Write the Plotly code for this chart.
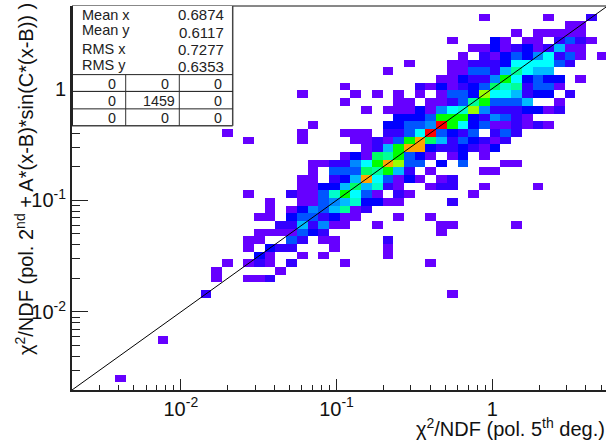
import numpy as np
import plotly.graph_objects as go

# 50 x 50 log-spaced histogram bins
axis_low = 0.002
axis_high = 5.5
n_bins = 50

# counts per row of the 2D histogram: {first column: run of counts (base 36, '.' = empty)}
row_48 = {38: "1", 44: "1", 48: "2"}
row_47 = {46: "11"}
row_46 = {41: "1", 43: "11111"}
row_45 = {35: "1", 39: "31", 42: "11", 45: "2421"}
row_44 = {37: "11312312611"}
row_43 = {36: "1.2134357241", 49: "1"}
row_42 = {31: "1", 35: "112223777742"}
row_41 = {29: "1", 35: "1144269766"}
row_40 = {34: "113225b73433", 47: "1"}
row_39 = {25: "1", 32: "2131234a892441"}
row_38 = {21: "1", 26: "1", 28: "1", 30: "1", 32: "1", 34: "1443d776233", 46: "2"}
row_37 = {25: "1", 30: "11", 33: "11249b4446", 45: "1"}
row_36 = {27: "1", 29: "11131578d52223312"}
row_35 = {30: "3334bbb325421"}
row_34 = {22: "1", 29: "33445kb734112121"}
row_33 = {14: "1", 21: "1", 25: "111", 29: "2247k4324.242"}
row_32 = {16: "1", 21: "1", 26: "11214bia6243212"}
row_31 = {27: "126bii3223213"}
row_30 = {25: "131a9b431", 35: "13", 38: "1"}
row_29 = {22: "112257bid44", 34: "3", 36: "4", 40: "11"}
row_28 = {22: "1", 24: "444a9b62", 33: "1", 38: "11"}
row_27 = {21: "11", 24: "236i74131", 34: "12"}
row_26 = {21: "11336a6821", 33: "122", 38: "1", 43: "1"}
row_25 = {16: "1", 20: "2", 21: "1148b741", 30: "21", 37: "1"}
row_24 = {18: "1", 21: "1145683311", 35: "2"}
row_23 = {18: "1", 20: "13546912"}
row_22 = {17: "11", 20: "3442311", 30: "1", 33: "1"}
row_21 = {19: "2262511", 28: "1", 34: "11", 41: "1"}
row_20 = {17: "1111432", 34: "1"}
row_19 = {16: "11", 20: "42", 23: "11", 29: "2"}
row_18 = {16: "1", 18: "322", 24: "1", 29: "1"}
row_17 = {17: "31", 21: "1", 23: "1", 29: "1"}
row_16 = {14: "1", 16: "121", 20: "2", 25: "1", 33: "1"}
row_15 = {13: "1", 19: "1"}
row_14 = {13: "1", 16: "112"}
row_12 = {12: "2", 35: "1"}
row_06 = {8: "1"}
row_01 = {4: "1"}

hist_rows = {48: row_48, 47: row_47, 46: row_46, 45: row_45, 44: row_44, 43: row_43, 42: row_42,
             41: row_41, 40: row_40, 39: row_39, 38: row_38, 37: row_37, 36: row_36, 35: row_35,
             34: row_34, 33: row_33, 32: row_32, 31: row_31, 30: row_30, 29: row_29, 28: row_28,
             27: row_27, 26: row_26, 25: row_25, 24: row_24, 23: row_23, 22: row_22, 21: row_21,
             20: row_20, 19: row_19, 18: row_18, 17: row_17, 16: row_16, 15: row_15, 14: row_14,
             12: row_12, 6: row_06, 1: row_01}

stat_labels = ["Mean x", "Mean y", "RMS x", "RMS y"]
stat_values = ["0.6874", "0.6117", "0.7277", "0.6353"]
table_values = [["0", "0", "0"], ["0", "1459", "0"], ["0", "0", "0"]]

# palette: count -> colour
count_stops = [1, 2, 3, 4, 5, 6, 7, 8, 9, 10, 11, 13, 18, 20]
count_colors = ["#6600ff", "#3300ff", "#0000ff", "#0055ff", "#0088ff", "#00bbff", "#00ffff",
                "#00ffcc", "#00ff99", "#00ff66", "#00ff00", "#99ff00", "#ffa500", "#ff0000"]

z = [[None] * n_bins for _ in range(n_bins)]
for r, runs in hist_rows.items():
    for start, run in runs.items():
        for k, ch in enumerate(run):
            if ch != ".":
                z[r][start + k] = int(ch, 36)

edges = np.logspace(np.log10(axis_low), np.log10(axis_high), n_bins + 1).tolist()
scale = [[(c - 1) / 19, col] for c, col in zip(count_stops, count_colors)]

W, H = 606, 441
L, T, B = 72, 5.5, 390
R = 606
PH = B - T
def px(x): return (x - L) / (R - L)
def py(y): return (B - y) / PH

x_high = 10 ** ((R - L) / 155.7 + np.log10(axis_low))

fig = go.Figure()
fig.add_trace(go.Heatmap(x=edges, y=edges, z=z, colorscale=scale, zmin=1, zmax=20,
                         showscale=False, hoverongaps=False))
fig.add_trace(go.Scatter(x=[axis_low, axis_high], y=[axis_low, axis_high], mode="lines",
                         line=dict(color="black", width=1), showlegend=False, hoverinfo="skip"))

fig.update_layout(
    width=W, height=H, margin=dict(l=L, r=W - R, t=T, b=H - B, pad=0, autoexpand=False),
    paper_bgcolor="white", plot_bgcolor="white", showlegend=False,
    font=dict(family="Liberation Sans, Arial, sans-serif", color="#111111"),
)
fig.update_xaxes(type="log", range=[np.log10(axis_low), np.log10(x_high)], showgrid=False, zeroline=False,
                 showline=True, linecolor="#222222", linewidth=1.5, mirror=False,
                 tickmode="array", tickvals=[0.01, 0.1, 1], ticktext=["10<sup>-2</sup>", "10<sup>-1</sup>", "1"],
                 ticks="inside", ticklen=11, tickwidth=1, tickcolor="#222222",
                 tickfont=dict(size=20, color="#111111"),
                 minor=dict(ticks="inside", ticklen=5.5, tickwidth=1, tickcolor="#222222", dtick="D1", showgrid=False))
fig.update_yaxes(type="log", range=[np.log10(axis_low), np.log10(axis_high)], showgrid=False, zeroline=False,
                 showline=True, linecolor="#222222", linewidth=2, mirror=False,
                 tickmode="array", tickvals=[0.01, 0.1, 1], ticktext=["10<sup>-2</sup>", "10<sup>-1</sup>", "1"],
                 ticks="inside", ticklen=16, tickwidth=1, tickcolor="#222222",
                 tickfont=dict(size=20, color="#111111"),
                 minor=dict(ticks="inside", ticklen=8, tickwidth=1, tickcolor="#222222", dtick="D1", showgrid=False))

shapes = []
def seg(x0, y0, x1, y1, color="#222222", w=1):
    shapes.append(dict(type="line", xref="paper", yref="paper", x0=px(x0), y0=py(y0), x1=px(x1), y1=py(y1),
                       line=dict(color=color, width=w)))
# top frame
seg(72, 5.5, 606, 5.5, "#111111", 1)
# stats box
shapes.append(dict(type="rect", xref="paper", yref="paper", x0=px(72), y0=py(125.5), x1=px(232.7), y1=py(5.5),
                   fillcolor="white", line=dict(color="white", width=0), layer="above"))
seg(232.7, 5.5, 232.7, 125.5, "#444444", 1.5)
seg(72, 125.5, 232.7, 125.5, "#444444", 1.5)
seg(72, 74.2, 232.7, 74.2, "#222222", 1)
seg(72, 91, 232.7, 91, "#111111", 1)
seg(72, 108.5, 232.7, 108.5, "#222222", 1)
seg(125.7, 74.2, 125.7, 125.5, "#333333", 1)
seg(179.3, 74.2, 179.3, 125.5, "#333333", 1)
seg(72, 5.5, 72, 125.5, "#222222", 2)
fig.update_layout(shapes=shapes)

ann = []
def text(x, y, s, size, anchor="left", color="#222222"):
    ann.append(dict(xref="paper", yref="paper", x=px(x), y=py(y), text=s, showarrow=False, xanchor=anchor,
                    yanchor="middle", font=dict(size=size, color=color), align=anchor, borderpad=0))

stat_label_y = [14.5, 30, 49, 65]
stat_value_y = [14.5, 32, 49, 65.7]
for s, v, yl, yv in zip(stat_labels, stat_values, stat_label_y, stat_value_y):
    text(80.5, yl, s, 14.5)
    text(224.5, yv, v, 15, "right")
table_y = [84, 101, 117.3]
table_x = [112.3, 165, 217.7]
for row, y in zip(table_values, table_y):
    for v, x in zip(row, table_x):
        text(158.7 if v == "1459" else x, y, v, 14.3, "center")

ann.append(dict(xref="paper", yref="paper", x=px(606), y=py(427.5), xanchor="right", yanchor="middle",
                borderpad=0, showarrow=False, text="χ<sup>2</sup>/NDF (pol. 5<sup>th</sup> deg.)",
                font=dict(size=20, color="#111111")))
ann.append(dict(xref="paper", yref="paper", x=px(24.5), y=py(2), xanchor="center", yanchor="top", textangle=-90,
                borderpad=0, showarrow=False, text="χ<sup>2</sup>/NDF (pol. 2<sup>nd</sup> + A*(x-B)*sin(C*(x-B)) )",
                font=dict(size=20, color="#111111")))
fig.update_layout(annotations=ann)

fig.write_html("out.html", config=dict(displayModeBar=False),
               post_script="document.body.style.margin='0';document.documentElement.style.overflow='hidden';")
